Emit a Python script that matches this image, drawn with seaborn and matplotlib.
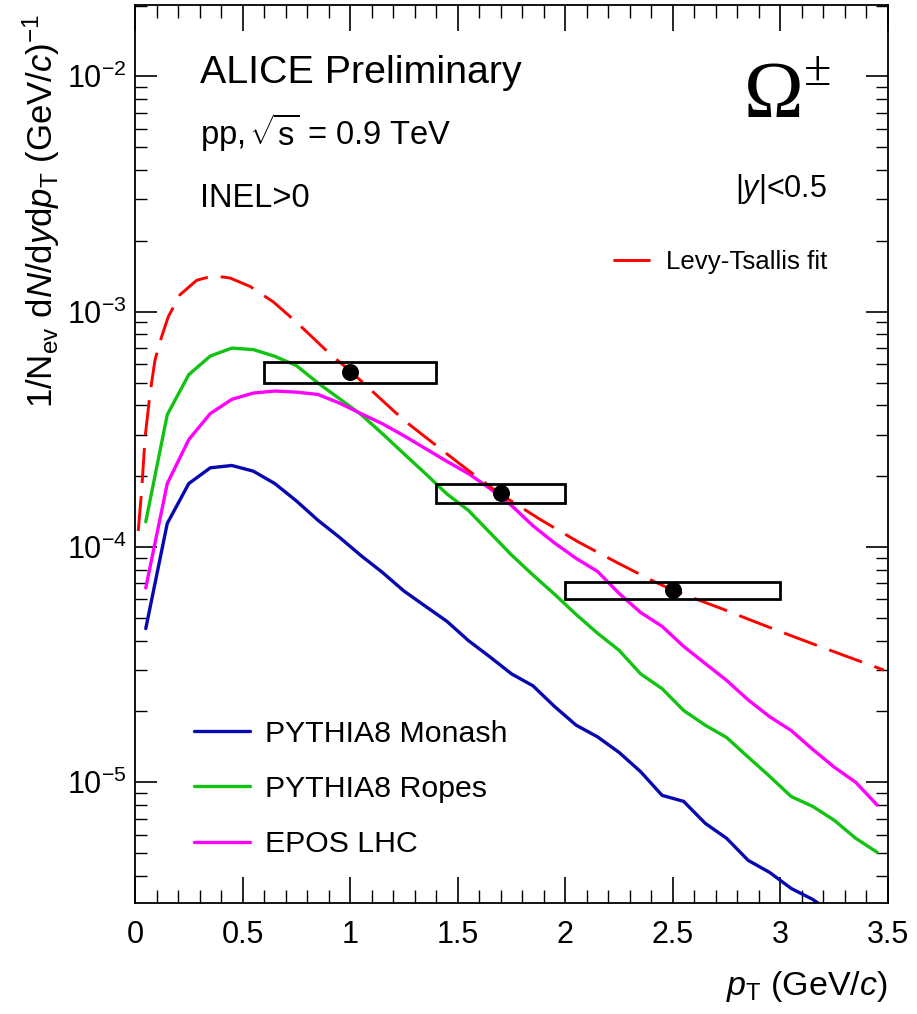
import matplotlib
matplotlib.use("Agg")
import numpy as np
import pandas as pd
import matplotlib.pyplot as plt
import seaborn as sns
from matplotlib.lines import Line2D
from matplotlib.patches import Rectangle
from matplotlib.ticker import MultipleLocator, LogLocator, NullFormatter, FuncFormatter

# model curves, bin centres of 0.1 GeV/c bins
pt_centers = [0.05, 0.15, 0.25, 0.35, 0.45, 0.55, 0.65, 0.75, 0.85, 0.95,
              1.05, 1.15, 1.25, 1.35, 1.45, 1.55, 1.65, 1.75, 1.85, 1.95,
              2.05, 2.15, 2.25, 2.35, 2.45, 2.55, 2.65, 2.75, 2.85, 2.95,
              3.05, 3.15, 3.25, 3.35, 3.45]
monash = [4.5e-5, 1.26e-4, 1.86e-4, 2.17e-4, 2.22e-4, 2.10e-4, 1.86e-4, 1.57e-4, 1.30e-4, 1.10e-4,
          9.2e-5, 7.8e-5, 6.5e-5, 5.6e-5, 4.83e-5, 4.0e-5, 3.41e-5, 2.89e-5, 2.57e-5, 2.1e-5,
          1.75e-5, 1.56e-5, 1.34e-5, 1.11e-5, 8.8e-6, 8.3e-6, 6.7e-6, 5.78e-6, 4.66e-6, 4.14e-6,
          3.54e-6, 3.18e-6, 2.75e-6, 2.4e-6, 2.1e-6]
ropes = [1.28e-4, 3.65e-4, 5.4e-4, 6.48e-4, 7.0e-4, 6.9e-4, 6.46e-4, 5.9e-4, 4.98e-4, 4.27e-4,
         3.66e-4, 3.03e-4, 2.49e-4, 2.05e-4, 1.68e-4, 1.43e-4, 1.15e-4, 9.25e-5, 7.6e-5, 6.3e-5,
         5.17e-5, 4.3e-5, 3.64e-5, 2.89e-5, 2.5e-5, 2.02e-5, 1.75e-5, 1.55e-5, 1.28e-5, 1.06e-5,
         8.7e-6, 7.9e-6, 6.9e-6, 5.78e-6, 5.04e-6]
epos = [6.7e-5, 1.86e-4, 2.86e-4, 3.69e-4, 4.24e-4, 4.51e-4, 4.6e-4, 4.55e-4, 4.45e-4, 4.09e-4,
        3.69e-4, 3.34e-4, 2.97e-4, 2.62e-4, 2.31e-4, 2.05e-4, 1.77e-4, 1.5e-4, 1.23e-4, 1.04e-4,
        8.95e-5, 7.87e-5, 6.35e-5, 5.27e-5, 4.6e-5, 3.78e-5, 3.2e-5, 2.71e-5, 2.24e-5, 1.9e-5,
        1.66e-5, 1.38e-5, 1.16e-5, 1.0e-5, 8.0e-6]
model_names = ["PYTHIA8 Monash", "PYTHIA8 Ropes", "EPOS LHC"]
model_colors = ["#0808b0", "#12c312", "#ff00ff"]

# Levy-Tsallis fit
fit_pt = [0.015, 0.031, 0.047, 0.07, 0.093, 0.124, 0.155, 0.209, 0.287, 0.364,
          0.442, 0.535, 0.643, 0.752, 0.814, 0.907, 1.0, 1.216, 1.278, 1.449,
          1.557, 1.697, 1.883, 2.061, 2.239, 2.41, 2.518, 2.72, 2.859, 3.061,
          3.169, 3.48]
fit_val = [1.17e-4, 1.74e-4, 2.93e-4, 4.5e-4, 6.24e-4, 7.84e-4, 9.53e-4, 1.18e-3, 1.36e-3, 1.42e-3,
           1.39e-3, 1.28e-3, 1.10e-3, 9.0e-4, 7.95e-4, 6.6e-4, 5.6e-4, 3.69e-4, 3.3e-4, 2.49e-4,
           2.09e-4, 1.68e-4, 1.31e-4, 1.05e-4, 8.6e-5, 7.15e-5, 6.45e-5, 5.5e-5, 4.9e-5, 4.16e-5,
           3.82e-5, 3.0e-5]

# ALICE data points with systematic boxes
data_pt = [1.0, 1.7, 2.5]
data_val = [5.53e-4, 1.69e-4, 6.56e-5]
bin_lo = [0.6, 1.4, 2.0]
bin_hi = [1.4, 2.0, 3.0]
sys_lo = [5.0e-4, 1.54e-4, 6.0e-5]
sys_hi = [6.1e-4, 1.86e-4, 7.1e-5]

x_ticks = [0, 0.5, 1, 1.5, 2, 2.5, 3, 3.5]
y_ticks = [1e-5, 1e-4, 1e-3, 1e-2]

sns.set_theme(style="ticks")
plt.rcParams['font.family'] = ['Liberation Sans', 'DejaVu Sans']
plt.rcParams['mathtext.fontset'] = 'custom'
plt.rcParams['mathtext.rm'] = 'Liberation Sans'
plt.rcParams['mathtext.it'] = 'Liberation Sans:italic'
plt.rcParams['mathtext.bf'] = 'Liberation Sans:bold'
for key in ['text.color', 'axes.labelcolor', 'xtick.color', 'ytick.color', 'axes.edgecolor']:
    plt.rcParams[key] = 'black'

W, H = 917, 1014
fig = plt.figure(figsize=(W / 100, H / 100), dpi=100)
fig.patch.set_facecolor('white')
ax = fig.add_axes([135 / W, 1 - 903 / H, (888 - 135) / W, (903 - 5) / H])
ax.set_facecolor('white')


def fpx(x, y):
    return x / W, 1 - y / H


# models
rows = []
for name, vals in zip(model_names, [monash, ropes, epos]):
    for p, v in zip(pt_centers, vals):
        rows.append({"pt": p, "val": v, "model": name})
df = pd.DataFrame(rows)
sns.lineplot(data=df, x="pt", y="val", hue="model", hue_order=model_names,
             palette=dict(zip(model_names, model_colors)), linewidth=2.4,
             errorbar=None, legend=False, ax=ax)

# fit
sns.lineplot(x=fit_pt, y=fit_val, color="#ff0000", linewidth=2.1,
             linestyle=(0, (12, 4.5)), errorbar=None, ax=ax)

# systematic boxes
for lo, hi, ylo, yhi in zip(bin_lo, bin_hi, sys_lo, sys_hi):
    ax.add_patch(Rectangle((lo, ylo), hi - lo, yhi - ylo, fill=False,
                           edgecolor="black", linewidth=2.0, zorder=4))

sns.scatterplot(x=data_pt, y=data_val, color="black", s=150, edgecolor="black",
                linewidth=0, zorder=5, ax=ax)

ax.set_yscale('log')
ax.set_xlim(0, 3.5)
ax.set_ylim(3.07e-6, 2.01e-2)

ax.set_xticks(x_ticks)
ax.xaxis.set_minor_locator(MultipleLocator(0.1))
ax.xaxis.set_major_formatter(FuncFormatter(lambda v, p: "%g" % v))
ax.set_yticks(y_ticks)
ax.yaxis.set_minor_locator(LogLocator(base=10, subs=np.arange(2, 10)))
ax.yaxis.set_minor_formatter(NullFormatter())
ax.yaxis.set_major_formatter(FuncFormatter(lambda v, p: r"$10^{%d}$" % round(np.log10(v))))

ax.tick_params(which='both', direction='in', top=True, right=True)
ax.tick_params(axis='x', which='major', length=19, width=1.2, labelsize=22, pad=12)
ax.tick_params(axis='x', which='minor', length=9.5, width=1.0)
ax.tick_params(axis='y', which='major', length=16, width=1.2, labelsize=22, pad=6)
ax.tick_params(axis='y', which='minor', length=8.5, width=1.0)
for sp in ax.spines.values():
    sp.set_linewidth(1.3)

ax.set_xlabel(r"$p_{\mathrm{T}}$ (GeV/$c$)", fontsize=24.5, loc='right')
ax.xaxis.set_label_coords(1.0, -(995 - 903) / 898)
ax.xaxis.label.set_va('baseline')
ax.set_ylabel(r"1/N$_{\mathrm{ev}}$ d$N$/d$y$d$p_{\mathrm{T}}$ (GeV/$c$)$^{-1}$",
              fontsize=25, loc='top')
ax.yaxis.set_label_coords(-(135 - 62) / 753, 0.99)

# legends
h_models = [Line2D([], [], color=c, lw=2.4) for c in model_colors]
leg1 = ax.legend(h_models, model_names, loc='center left',
                 bbox_to_anchor=fpx(194, 789), bbox_transform=fig.transFigure,
                 frameon=False, fontsize=21.8, handlelength=1.85, handletextpad=0.5,
                 labelspacing=0.9, borderpad=0, borderaxespad=0)
ax.add_artist(leg1)
h_fit = [Line2D([], [], color="#ff0000", lw=2.1)]
ax.legend(h_fit, ["Levy-Tsallis fit"], loc='center left',
          bbox_to_anchor=fpx(614, 262), bbox_transform=fig.transFigure,
          frameon=False, fontsize=18.6, handlelength=1.35, handletextpad=0.68,
          borderpad=0, borderaxespad=0)

# labels
fig.text(*fpx(200, 83), "ALICE Preliminary", fontsize=28.4, va='baseline')
fig.text(*fpx(200, 145), r"pp, $\!\sqrt{\mathrm{s}}$ = 0.9 TeV", fontsize=23.5, va='baseline')
fig.text(*fpx(200, 207), "INEL>0", fontsize=23.5, va='baseline')
fig.text(*fpx(744, 117), "\u03A9", fontsize=58, va='baseline', family=['Liberation Serif'])
fig.text(*fpx(804, 85), "\u00B1", fontsize=36, va='baseline', family=['Liberation Serif'])
fig.text(*fpx(827, 197), r"|$y$|<0.5", fontsize=22, va='baseline', ha='right')

fig.savefig("out.png", dpi=100, facecolor='white')
